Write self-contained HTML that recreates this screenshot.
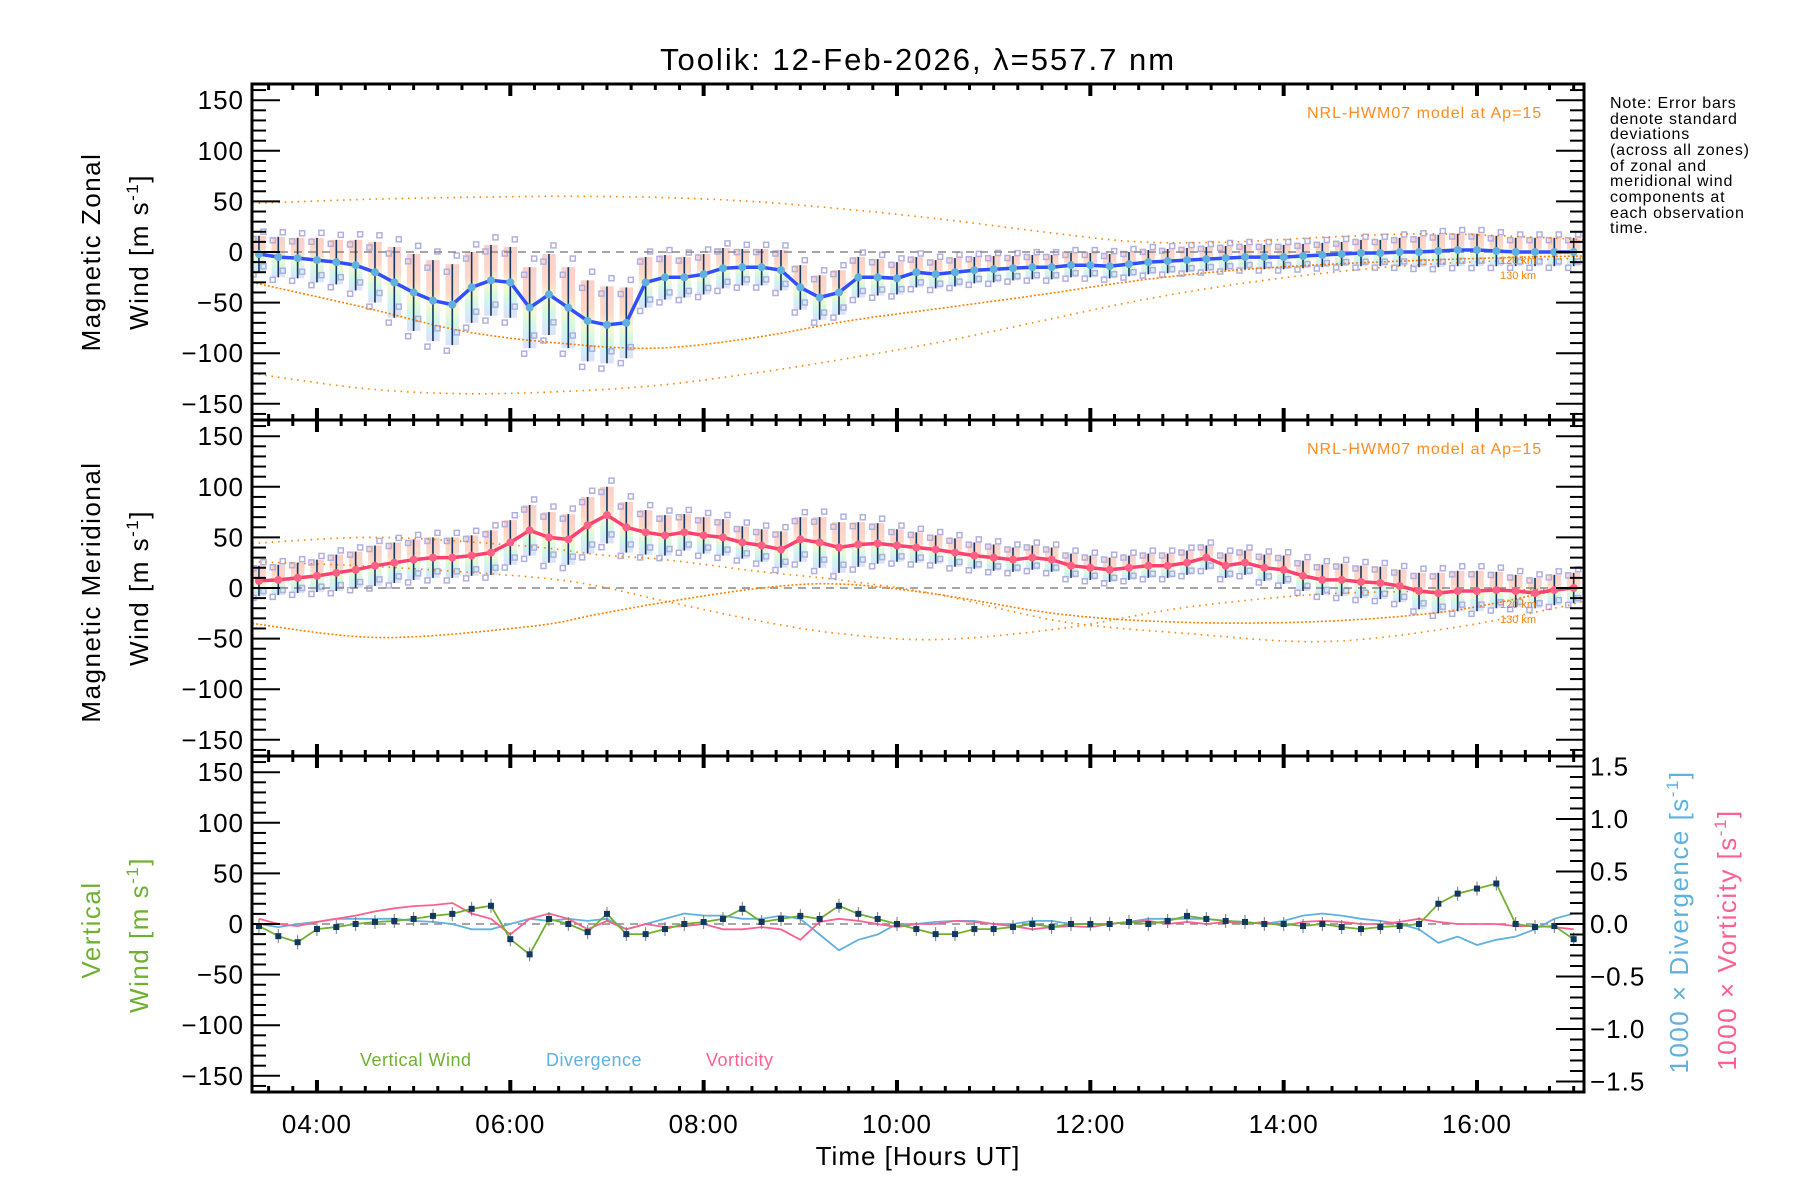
<!DOCTYPE html>
<html><head><meta charset="utf-8"><style>
html,body{margin:0;padding:0;background:#fff;}
svg{display:block;font-family:"Liberation Sans",sans-serif;}
</style></head><body>
<svg id="chart" width="1800" height="1200" viewBox="0 0 1800 1200">
<defs>
<linearGradient id="bandZ" x1="0" y1="0" x2="0" y2="1">
<stop offset="0" stop-color="#f8a090"/><stop offset="0.35" stop-color="#f8b090"/><stop offset="0.55" stop-color="#f0f0a0"/><stop offset="0.7" stop-color="#b0f0c0"/><stop offset="0.85" stop-color="#a0e0f0"/><stop offset="1" stop-color="#c0c0f0"/>
</linearGradient>
</defs>
<g id="g-p1"></g>
<g id="g-p2"></g>
<g id="g-p3"></g>
<g id="g-ax"></g>
<text x="918" y="70" font-size="31" letter-spacing="2" text-anchor="middle">Toolik: 12-Feb-2026, λ=557.7 nm</text>
<text x="918" y="1165" font-size="26" letter-spacing="1" text-anchor="middle">Time [Hours UT]</text>
<g font-size="16" letter-spacing="0.8">
<text x="1610" y="108">Note: Error bars</text>
<text x="1610" y="124">denote standard</text>
<text x="1610" y="139">deviations</text>
<text x="1610" y="155">(across all zones)</text>
<text x="1610" y="171">of zonal and</text>
<text x="1610" y="186">meridional wind</text>
<text x="1610" y="202">components at</text>
<text x="1610" y="218">each observation</text>
<text x="1610" y="233">time.</text>
</g>
<text x="1307" y="118" font-size="16" letter-spacing="1" fill="#ff8c20">NRL-HWM07 model at Ap=15</text>
<text x="1307" y="454" font-size="16" letter-spacing="1" fill="#ff8c20">NRL-HWM07 model at Ap=15</text>
<text x="1500" y="264" font-size="11" fill="#ff8000">120 km</text>
<text x="1500" y="279" font-size="11" fill="#ff8000">130 km</text>
<text x="1500" y="608" font-size="11" fill="#ff8000">120 km</text>
<text x="1500" y="623" font-size="11" fill="#ff8000">130 km</text>
<text x="360" y="1066" font-size="18" letter-spacing="0.5" fill="#70b030">Vertical Wind</text>
<text x="546" y="1066" font-size="18" letter-spacing="0.5" fill="#60b0e0">Divergence</text>
<text x="706" y="1066" font-size="18" letter-spacing="0.5" fill="#ff6090">Vorticity</text>
<text transform="translate(100,252) rotate(-90)" font-size="26" letter-spacing="1.5" text-anchor="middle">Magnetic Zonal</text>
<text transform="translate(148,252) rotate(-90)" font-size="26" letter-spacing="1.5" text-anchor="middle">Wind [m s<tspan font-size="17" dy="-10">-1</tspan><tspan dy="10">]</tspan></text>
<text transform="translate(100,592) rotate(-90)" font-size="26" letter-spacing="1.5" text-anchor="middle">Magnetic Meridional</text>
<text transform="translate(148,588) rotate(-90)" font-size="26" letter-spacing="1.5" text-anchor="middle">Wind [m s<tspan font-size="17" dy="-10">-1</tspan><tspan dy="10">]</tspan></text>
<text transform="translate(100,930) rotate(-90)" font-size="26" letter-spacing="1.5" text-anchor="middle" fill="#70b030">Vertical</text>
<text transform="translate(148,935) rotate(-90)" font-size="26" letter-spacing="1.5" text-anchor="middle" fill="#70b030">Wind [m s<tspan font-size="17" dy="-10">-1</tspan><tspan dy="10">]</tspan></text>
<text transform="translate(1688,922) rotate(-90)" font-size="26" letter-spacing="1.5" text-anchor="middle" fill="#60b0e0">1000 × Divergence [s<tspan font-size="17" dy="-10">-1</tspan><tspan dy="10">]</tspan></text>
<text transform="translate(1736,940) rotate(-90)" font-size="26" letter-spacing="1.5" text-anchor="middle" fill="#ff6090">1000 × Vorticity [s<tspan font-size="17" dy="-10">-1</tspan><tspan dy="10">]</tspan></text>
</svg>
<script>
const hours=[3.4,3.6,3.8,4.0,4.2,4.4,4.6,4.8,5.0,5.2,5.4,5.6,5.8,6.0,6.2,6.4,6.6,6.8,7.0,7.2,7.4,7.6,7.8,8.0,8.2,8.4,8.6,8.8,9.0,9.2,9.4,9.6,9.8,10.0,10.2,10.4,10.6,10.8,11.0,11.2,11.4,11.6,11.8,12.0,12.2,12.4,12.6,12.8,13.0,13.2,13.4,13.6,13.8,14.0,14.2,14.4,14.6,14.8,15.0,15.2,15.4,15.6,15.8,16.0,16.2,16.4,16.6,16.8,17.0];
const zonal=[-2,-5,-6,-8,-10,-13,-20,-30,-40,-48,-52,-35,-28,-30,-55,-42,-55,-68,-72,-70,-30,-25,-25,-22,-16,-15,-15,-18,-35,-45,-40,-25,-25,-26,-20,-22,-20,-18,-17,-16,-15,-15,-13,-13,-14,-12,-10,-9,-8,-7,-6,-5,-5,-5,-4,-3,-2,-1,-1,0,0,1,2,2,1,0,0,0,0];
const zonalStd=[18,20,20,22,22,25,30,35,38,40,40,35,35,35,40,40,40,40,38,35,25,22,20,20,20,18,18,20,22,22,22,20,18,16,15,14,14,13,13,12,12,12,12,12,12,12,12,12,12,12,12,12,12,12,12,12,12,13,13,14,15,16,16,16,15,14,14,14,14];
const merid=[7,8,10,12,15,18,22,25,28,30,30,32,35,45,57,50,48,62,72,60,55,52,55,52,50,45,42,38,48,45,40,43,44,42,40,38,35,32,30,28,30,28,22,20,18,20,22,22,25,30,22,25,20,18,12,8,8,6,5,2,-3,-5,-3,-3,-2,-3,-5,-2,0];
const meridStd=[15,15,15,16,18,18,20,20,20,20,20,20,22,22,25,25,25,28,28,25,22,20,18,18,18,16,16,18,22,25,25,22,20,16,15,14,14,13,13,12,12,12,12,12,12,12,12,12,12,12,12,12,13,14,15,15,16,16,16,16,18,20,20,20,18,16,15,15,15];
const vertical=[-2,-12,-18,-5,-3,0,2,3,5,8,10,15,18,-15,-30,5,0,-8,10,-10,-10,-5,0,2,5,15,2,5,8,5,18,10,5,0,-5,-10,-10,-5,-5,-3,0,-3,0,0,0,2,0,3,8,5,3,2,0,0,-2,0,-3,-5,-3,-2,0,20,30,35,40,0,-3,-2,-15];
const divergence=[0,-0.03,0,0.02,0.05,0.05,0.05,0.05,0.03,0.02,0,-0.05,-0.05,0,0.05,0.03,0.05,0.03,0.05,-0.05,0,0.05,0.1,0.08,0.08,0.05,0.05,0.08,0.05,-0.1,-0.25,-0.15,-0.1,0,0,0.02,0.03,0.03,0,0,0.03,0.03,0,0,0,0.02,0.05,0.05,0.05,0.05,0.03,0.02,0,0.03,0.08,0.1,0.08,0.05,0.03,0,-0.05,-0.18,-0.12,-0.2,-0.15,-0.12,-0.05,0.05,0.1];
const vorticity=[0.05,0,-0.02,0.02,0.05,0.08,0.12,0.15,0.17,0.18,0.2,0.1,0.05,-0.1,0.05,0.1,0.05,-0.05,0.03,-0.05,0,-0.03,-0.02,0,-0.05,-0.05,-0.03,-0.05,-0.15,0.02,0.05,0.03,0,-0.03,0,0,0.03,0.02,0,-0.02,-0.05,-0.03,-0.02,-0.03,0,0.02,0.03,0,0.02,0,0.02,0,0.02,-0.02,0.02,0.03,0.02,0,0,0.02,0.05,0.02,0,0,0,-0.02,-0.02,-0.03,-0.05];
// NRL-HWM07 model curves (knots)
const modelZH=[3.33,4.5,5.5,6.5,7.5,8.5,9.5,10.5,11.5,12.5,13.5,14.5,15.5,16.5,17.1];
const modelZ1=[48,52,54,55,54,50,42,32,20,10,10,15,18,15,12];
const modelZ2=[-30,-55,-78,-90,-95,-85,-68,-55,-42,-28,-18,-12,-8,-5,-4];
const modelZ3=[-120,-135,-140,-138,-132,-120,-105,-88,-68,-48,-32,-20,-12,-8,-6];
const modelMH=[3.33,4.65,6.2,6.9,7.6,8.6,9.4,10.4,11.7,13.0,14.4,15.7,16.8,17.1];
const modelM1=[44,50,41,33,28,16,8,-6,-33,-45,-53,-40,-20,-13];
const modelM2=[-35,-49,-38,-26,-14,0,4,-6,-26,-34,-33,-23,-3,0];
const modelM3=[26,21,11,2,-13,-33,-45,-51,-40,-19,-6,-3,-1,0];
const scatterK=[-1.15,-0.7,0.8,1.2];
const xTicks=["04:00","06:00","08:00","10:00","12:00","14:00","16:00"];
const xTickHours=[4,6,8,10,12,14,16];
const yTicks=[150,100,50,0,-50,-100,-150];
const rTicks=[1.5,1.0,0.5,0.0,-0.5,-1.0,-1.5];

const NS='http://www.w3.org/2000/svg';
const L=252,R=1584,H0=3.328,H1=3.328+(R-L)/96.67;
const panels=[{top:84,bot:420},{top:420,bot:756},{top:756,bot:1092}];
const YR=166, RR=1.6;
function X(h){return L+(h-H0)/(H1-H0)*(R-L);}
function Y(p,v){const c=(p.top+p.bot)/2;return c-v/YR*(p.bot-p.top)/2;}
function YRt(p,v){const c=(p.top+p.bot)/2;return c-v/RR*(p.bot-p.top)/2;}
function mk(tag,attrs,parent){const e=document.createElementNS(NS,tag);for(const k in attrs)e.setAttribute(k,attrs[k]);parent.appendChild(e);return e;}
function smooth(hs,vs,p,n){
  let pts=[];for(let i=0;i<hs.length-1;i++){const p0=i?i-1:i,p3=i+2<hs.length?i+2:i+1;
    for(let t=0;t<1;t+=1/n){const t2=t*t,t3=t2*t;
      const f=(a,b,c,d)=>0.5*(2*b+(-a+c)*t+(2*a-5*b+4*c-d)*t2+(-a+3*b-3*c+d)*t3);
      pts.push([X(f(hs[p0],hs[i],hs[i+1],hs[p3])),Y(p,f(vs[p0],vs[i],vs[i+1],vs[p3]))]);}}
  pts.push([X(hs[hs.length-1]),Y(p,vs[vs.length-1])]);
  return pts.map(q=>q[0].toFixed(1)+','+q[1].toFixed(1)).join(' ');}

function windPanel(g,p,vals,std,lineCol,dotCol,models,nameBase){
  const clip=mk('clipPath',{id:'clip'+nameBase},g);mk('rect',{x:L,y:p.top,width:R-L,height:p.bot-p.top},clip);
  const gg=mk('g',{'clip-path':'url(#clip'+nameBase+')'},g);
  const w=X(hours[1])-X(hours[0]);
  hours.forEach((h,i)=>{
    const r=mk('rect',{x:X(h)-w*0.35,y:Y(p,vals[i]+std[i]),width:w*0.7,height:Y(p,vals[i]-std[i])-Y(p,vals[i]+std[i]),fill:'url(#bandZ)',opacity:0.5},gg);
    
    
  });
  hours.forEach((h,i)=>{
    scatterK.forEach((k,j)=>{
      const s=mk('rect',{x:X(h)-3+(j%2?5:-5),y:Y(p,vals[i]+k*std[i])-3,width:5,height:5,fill:'none',stroke:'#b0b0e0','stroke-width':1.5},gg);
      
      
    });
  });
  mk('line',{x1:L,x2:R,y1:Y(p,0),y2:Y(p,0),stroke:'#888','stroke-width':1.5,'stroke-dasharray':'8 6'},gg);
  models.forEach((m,j)=>{
    const pl=mk('polyline',{points:smooth(m[0],m[1],p,12),fill:'none',stroke:'#ff8000','stroke-width':1.6,'stroke-dasharray':j==1?'2 2':'1.5 5'},gg);
    
    
  });
  hours.forEach((h,i)=>{
    const b=mk('line',{x1:X(h),x2:X(h),y1:Y(p,vals[i]+std[i]),y2:Y(p,vals[i]-std[i]),stroke:'#103860','stroke-width':1.6},gg);
    
    
  });
  const ln=mk('polyline',{points:hours.map((h,i)=>X(h).toFixed(1)+','+Y(p,vals[i]).toFixed(1)).join(' '),fill:'none',stroke:lineCol,'stroke-width':3.5},gg);
  
  
  hours.forEach((h,i)=>{
    const c=mk('circle',{cx:X(h),cy:Y(p,vals[i]),r:4,fill:dotCol},gg);
    
    
  });
}
windPanel(document.getElementById('g-p1'),panels[0],zonal,zonalStd,'#3050ff','#60b0e0',[[modelZH,modelZ1],[modelZH,modelZ2],[modelZH,modelZ3]],'zonal');
windPanel(document.getElementById('g-p2'),panels[1],merid,meridStd,'#ff4070','#ff6088',[[modelMH,modelM1],[modelMH,modelM2],[modelMH,modelM3]],'meridional');

(function(){
  const g=document.getElementById('g-p3'),p=panels[2];
  mk('line',{x1:L,x2:R,y1:Y(p,0),y2:Y(p,0),stroke:'#888','stroke-width':1.5,'stroke-dasharray':'8 6'},g);
  const dv=mk('polyline',{points:hours.map((h,i)=>X(h).toFixed(1)+','+YRt(p,divergence[i]).toFixed(1)).join(' '),fill:'none',stroke:'#60b0e0','stroke-width':1.8},g);
  
  
  const vo=mk('polyline',{points:hours.map((h,i)=>X(h).toFixed(1)+','+YRt(p,vorticity[i]).toFixed(1)).join(' '),fill:'none',stroke:'#ff6090','stroke-width':1.8},g);
  
  
  const vw=mk('polyline',{points:hours.map((h,i)=>X(h).toFixed(1)+','+Y(p,vertical[i]).toFixed(1)).join(' '),fill:'none',stroke:'#70b030','stroke-width':1.8},g);
  
  
  hours.forEach((h,i)=>{
    mk('line',{x1:X(h),x2:X(h),y1:Y(p,vertical[i])-7,y2:Y(p,vertical[i])+7,stroke:'#777','stroke-width':1},g);
    const s=mk('rect',{x:X(h)-3,y:Y(p,vertical[i])-3,width:6,height:6,fill:'#103860'},g);
    
    
  });
})();

(function(){
  const g=document.getElementById('g-ax');
  panels.forEach((p,pi)=>{
    mk('rect',{x:L,y:p.top,width:R-L,height:p.bot-p.top,fill:'none',stroke:'#000','stroke-width':3},g);
    for(let v=-160;v<=160;v+=10){const y=Y(p,v);const major=v%50===0;
      mk('line',{x1:L,x2:L+(major?28:14),y1:y,y2:y,stroke:'#000','stroke-width':2},g);
      if(pi<2)mk('line',{x1:R,x2:R-(major?28:14),y1:y,y2:y,stroke:'#000','stroke-width':2},g);}
    yTicks.forEach(v=>{const t=mk('text',{x:L-8,y:Y(p,v)+9,'font-size':26,'letter-spacing':1,'text-anchor':'end'},g);t.textContent=(v<0?'−':'')+Math.abs(v);
      
      });
    for(let h=3.5;h<H1;h+=0.25){const x=X(h);const major=Math.abs(h-Math.round(h))<1e-6&&Math.round(h)%2===0;
      const len=major?12:6;
      mk('line',{x1:x,x2:x,y1:p.bot,y2:p.bot-len,stroke:'#000','stroke-width':major?4:3},g);
      mk('line',{x1:x,x2:x,y1:p.top,y2:p.top+len,stroke:'#000','stroke-width':major?4:3},g);}
  });
  const p=panels[2];
  for(let v=-1.6;v<=1.61;v+=0.1){const y=YRt(p,v);const major=Math.abs(Math.round(v*10))%5===0;
    mk('line',{x1:R,x2:R-(major?28:14),y1:y,y2:y,stroke:'#000','stroke-width':2},g);}
  rTicks.forEach(v=>{const t=mk('text',{x:R+6,y:YRt(p,v)+9,'font-size':26,'letter-spacing':1},g);t.textContent=(v<0?'−':'')+Math.abs(v).toFixed(1);
    
    });
  xTicks.forEach((s,i)=>{const t=mk('text',{x:X(xTickHours[i]),y:1133,'font-size':26,'letter-spacing':1,'text-anchor':'middle'},g);t.textContent=s;
    
    });
})();
</script>
</body></html>
